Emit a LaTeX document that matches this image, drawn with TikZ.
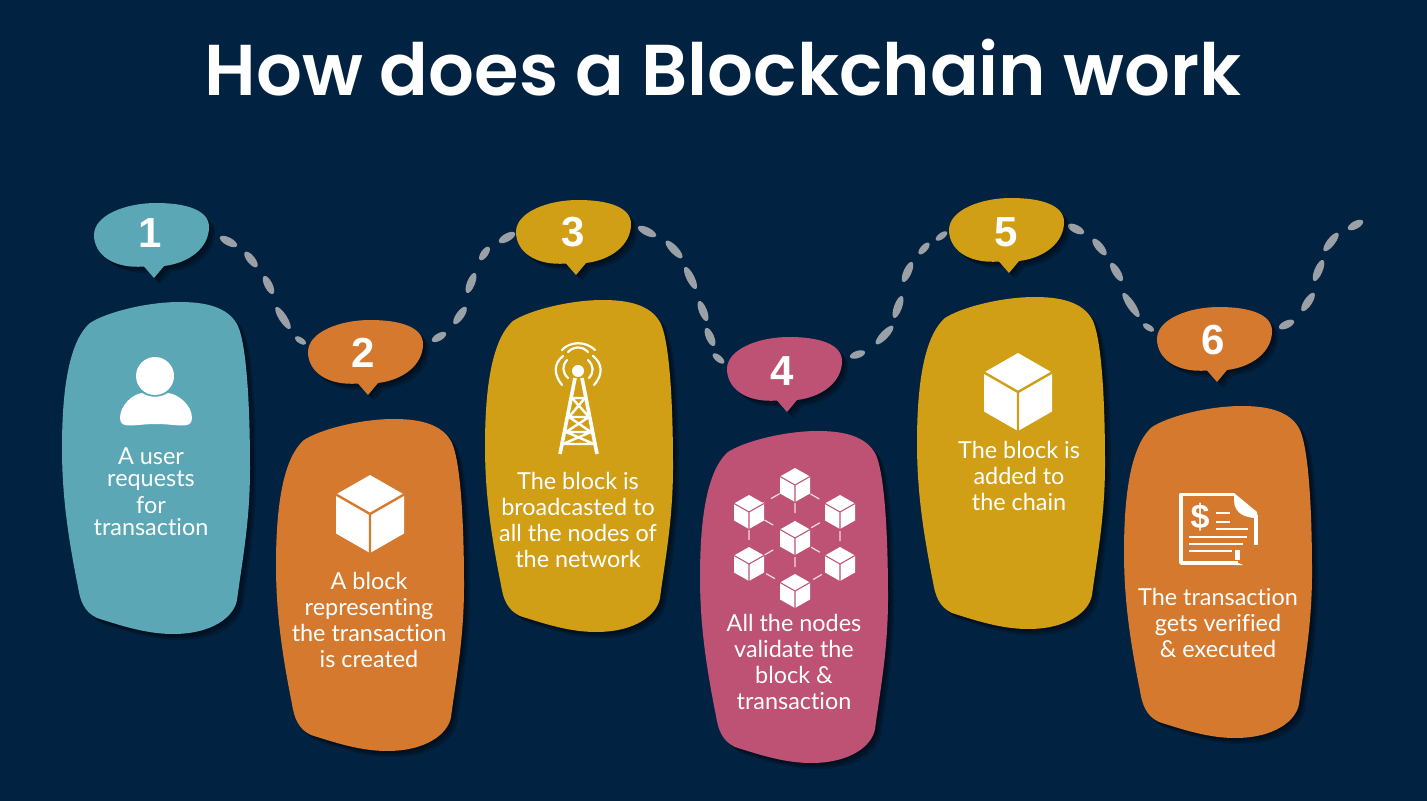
\documentclass[tikz,border=0pt]{standalone}
\usepackage{fontspec}
\setmainfont{Lato}[Ligatures=NoCommon]
\newfontfamily\titlefont{Poppins}[BoldFont={Poppins SemiBold}]
\newfontfamily\numfont{Liberation Sans}
\usetikzlibrary{calc}
\definecolor{bgnavy}{HTML}{012240}
\definecolor{teal1}{HTML}{5BA7B5}
\definecolor{orange1}{HTML}{D4792E}
\definecolor{gold1}{HTML}{D09F16}
\definecolor{rose1}{HTML}{BE5274}
\definecolor{dashgrey}{HTML}{9B9FA6}
\tikzset{
  bodytext/.style={text=white,align=center,font=\fontsize{11.7}{13}\selectfont,inner sep=0pt},
  numtext/.style={text=white,font=\numfont\bfseries\fontsize{21}{21}\selectfont,inner sep=0pt},
  titletext/.style={text=white,font=\titlefont\bfseries\fontsize{36}{36}\selectfont,inner sep=0pt},
  shade1/.style={fill=black,opacity=.2},
}
\newcommand{\blobpath}{(118,0) .. controls (150,0) and (168,8) .. (176,24) .. controls (185,45) and (188,107) .. (188,167) .. controls (188,220) and (180,260) .. (175,298) .. controls (172,315) and (150,332) .. (111,332) .. controls (85,332) and (60,324) .. (35,316) .. controls (22,310) and (18,298) .. (16,285) .. controls (5,230) and (0,190) .. (0,146) .. controls (0,96) and (5,41) .. (28,21) .. controls (43,11) and (83,0) .. (118,0) -- cycle}
\newcommand{\bubblepath}{(60,75) -- (50,63.5) .. controls (20,66) and (0,52) .. (0,32) .. controls (0,12) and (32,0) .. (62,0) .. controls (92,0) and (115,7) .. (115,24) .. controls (115,45) and (95,60) .. (70,63) -- cycle}
\newcommand{\blob}[3]{%
 \begin{scope}[shift={(#1,#2)}]
  \foreach \s in {2,4,6}{\fill[shade1,shift={(\s,\s)}] \blobpath;}
  \fill[#3] \blobpath;
 \end{scope}}
\newcommand{\bubble}[3]{%
 \begin{scope}[shift={(#1,#2)}]
  \foreach \s in {2,4,6}{\fill[shade1,shift={(\s,\s)}] \bubblepath;}
  \fill[#3] \bubblepath;
 \end{scope}}
\newcommand{\petal}[4]{%
 \pgfmathsetmacro{\pang}{atan2(-(#4-#2),#3-#1)}%
 \pgfmathsetmacro{\plen}{veclen(#3-#1,#4-#2)/2}%
 \pgfmathsetmacro{\pwid}{min(4,0.46*\plen)}%
 \fill[dashgrey] ({(#1+#3)/2},{(#2+#4)/2}) ellipse [x radius=\plen,y radius=\pwid,rotate=\pang];}
\newcommand{\cube}[5]{%
 \begin{scope}[shift={(#1,#2)}]
  \fill[white] (0,-#4) -- (#3,-#4/2) -- (#3,#4/2) -- (0,#4) -- (-#3,#4/2) -- (-#3,-#4/2) -- cycle;
  \draw[#5,line width=#3*.035pt] (-#3,-#4/2) -- (0,0) -- (#3,-#4/2) (0,0) -- (0,#4);
 \end{scope}}
\begin{document}
\begin{tikzpicture}[x=0.5pt,y=-0.5pt]
\useasboundingbox (0,0) rectangle (1427,801);
\fill[bgnavy] (0,0) rectangle (1427,801);
\node[titletext] (title) at (723,68) {How does a Blockchain work};
% petals
\petal{220}{237}{237}{246}\petal{245}{252}{257}{267}\petal{264}{276}{273}{294}\petal{276}{307}{290}{329}\petal{295}{337}{306}{344}
\petal{432}{341}{446}{333}\petal{454}{324}{466}{307}\petal{467}{293}{475}{273}\petal{480}{260}{489}{247}\petal{499}{242}{515}{233}
\petal{638}{227}{656}{236}\petal{666}{241}{682}{258}\petal{685}{267}{696}{289}\petal{699}{301}{707}{321}\petal{706}{328}{714}{346}\petal{713}{354}{724}{363}
\petal{850}{357}{865}{352}\petal{876}{344}{893}{326}\petal{894}{318}{902}{296}\petal{903}{282}{912}{262}\petal{919}{254}{929}{243}\petal{936}{240}{947}{232}
\petal{1068}{225}{1084}{233}\petal{1093}{239}{1106}{255}\petal{1111}{263}{1122}{281}\petal{1123}{293}{1139}{317}\petal{1143}{324}{1154}{331}
\petal{1279}{328}{1294}{321}\petal{1302}{311}{1314}{293}\petal{1314}{281}{1323}{260}\petal{1324}{251}{1338}{233}\petal{1348}{229}{1363}{221}
% blobs
\blob{62}{302}{teal1}\blob{276}{419}{orange1}\blob{485}{300}{gold1}\blob{700}{431}{rose1}\blob{917}{297}{gold1}\blob{1124}{406}{orange1}
% bubbles
\bubble{94}{203}{teal1}\bubble{308}{320}{orange1}\bubble{516}{200}{gold1}\bubble{727}{337}{rose1}\bubble{949}{198}{gold1}\bubble{1157}{307}{orange1}
\node[numtext] (n1) at (150,233) {1};
\node[numtext] (n2) at (363,353) {2};
\node[numtext] (n3) at (573,232) {3};
\node[numtext] (n4) at (782,371) {4};
\node[numtext] (n5) at (1006,232) {5};
\node[numtext] (n6) at (1213,340) {6};
% texts
\node[bodytext] (t1a) at (151,456) {A user};
\node[bodytext] (t1b) at (151,481) {requests};
\node[bodytext] (t1c) at (151,505) {for};
\node[bodytext] (t1d) at (151,527) {transaction};
\node[bodytext] (t2) at (369,620) {A block\\representing\\the transaction\\is created};
\node[bodytext] (t3) at (578,520) {The block is\\broadcasted to\\all the nodes of\\the network};
\node[bodytext] (t4) at (794,662) {All the nodes\\validate the\\block \&\\transaction};
\node[bodytext] (t5) at (1019,476) {The block is\\added to\\the chain};
\node[bodytext] (t6) at (1218,623) {The transaction\\gets verified\\\& executed};
% user icon
\fill[white] (155,376) circle (19);
\fill[white] (120,418) .. controls (120,405) and (133,394) .. (142,393) .. controls (150,398) and (160,398) .. (168,393) .. controls (178,394) and (192,405) .. (192,418) .. controls (192,430) and (178,424) .. (156,424) .. controls (134,424) and (120,430) .. (120,418) -- cycle;
% cubes
\cube{370}{514}{34}{39}{orange1}
\cube{1018}{392}{34}{39}{gold1}
% antenna
\begin{scope}[white,line cap=round]
\fill (578,371) circle (6);
\draw[line width=1.1pt] (562,385) .. controls (554,375) and (553,364) .. (563,356);
\draw[line width=1.1pt] (594,385) .. controls (603,375) and (603,364) .. (593,356);
\draw[line width=1.1pt] (568,378) .. controls (562,372) and (562,366) .. (567,360);
\draw[line width=1.1pt] (589,378) .. controls (594,372) and (594,366) .. (588,360);
\draw[line width=1.1pt] (562,350) .. controls (570,341) and (586,341) .. (595,350);
\draw[line width=1.1pt] (568,352) .. controls (574,346) and (582,346) .. (588,352);
\draw[line width=1.8pt,line cap=butt] (575,378) -- (560,454) (582,378) -- (597,454);
\draw[line width=1.2pt,line cap=butt] (572,398) -- (585,398) (569,417) -- (589,417) (566,432) -- (591,432) (563,444) -- (594,444) (572,398) -- (589,417) (585,398) -- (569,417) (569,417) -- (591,432) (589,417) -- (566,432) (566,432) -- (594,444) (591,432) -- (563,444);
\end{scope}
% network of nodes
\begin{scope}[white!80!rose1,line width=.6pt,dash pattern=on 5pt off 4pt]
\draw (795,485) -- (840,511) -- (840,564) -- (795,590) -- (749,564) -- (749,511) -- cycle;
\draw (795,485) -- (795,590) (749,511) -- (840,564) (749,564) -- (840,511);
\end{scope}
\cube{795}{485}{15}{17}{rose1}
\cube{749}{512}{15}{17}{rose1}
\cube{840}{512}{15}{17}{rose1}
\cube{795}{538}{15}{17}{rose1}
\cube{749}{564}{15}{17}{rose1}
\cube{840}{564}{15}{17}{rose1}
\cube{795}{591}{15}{17}{rose1}
% invoice icon
\begin{scope}[white]
\draw[line width=1.8pt,line join=round] (1256,545) -- (1256,515) (1234,494.5) -- (1181,494.5) -- (1181,563) -- (1238,563);
\fill (1234,493) -- (1257,512) -- (1257,518) .. controls (1246,518) and (1234,514) .. (1234,500) -- cycle;
\fill (1236,562) -- (1243,565) -- (1236,565) -- cycle;
\node[text=white,inner sep=0pt,font=\numfont\bfseries\fontsize{17}{17}\selectfont] (dollar) at (1200,517) {\$};
\draw[line width=1.4pt] (1216,513) -- (1230,513) (1216,522) -- (1230,522) (1216,529) -- (1248,529) (1189,537) -- (1247,537) (1189,544) -- (1243,544) (1189,551) -- (1232,551);
\fill (1235,550) rectangle (1240,560);
\end{scope}
\end{tikzpicture}
\end{document}
